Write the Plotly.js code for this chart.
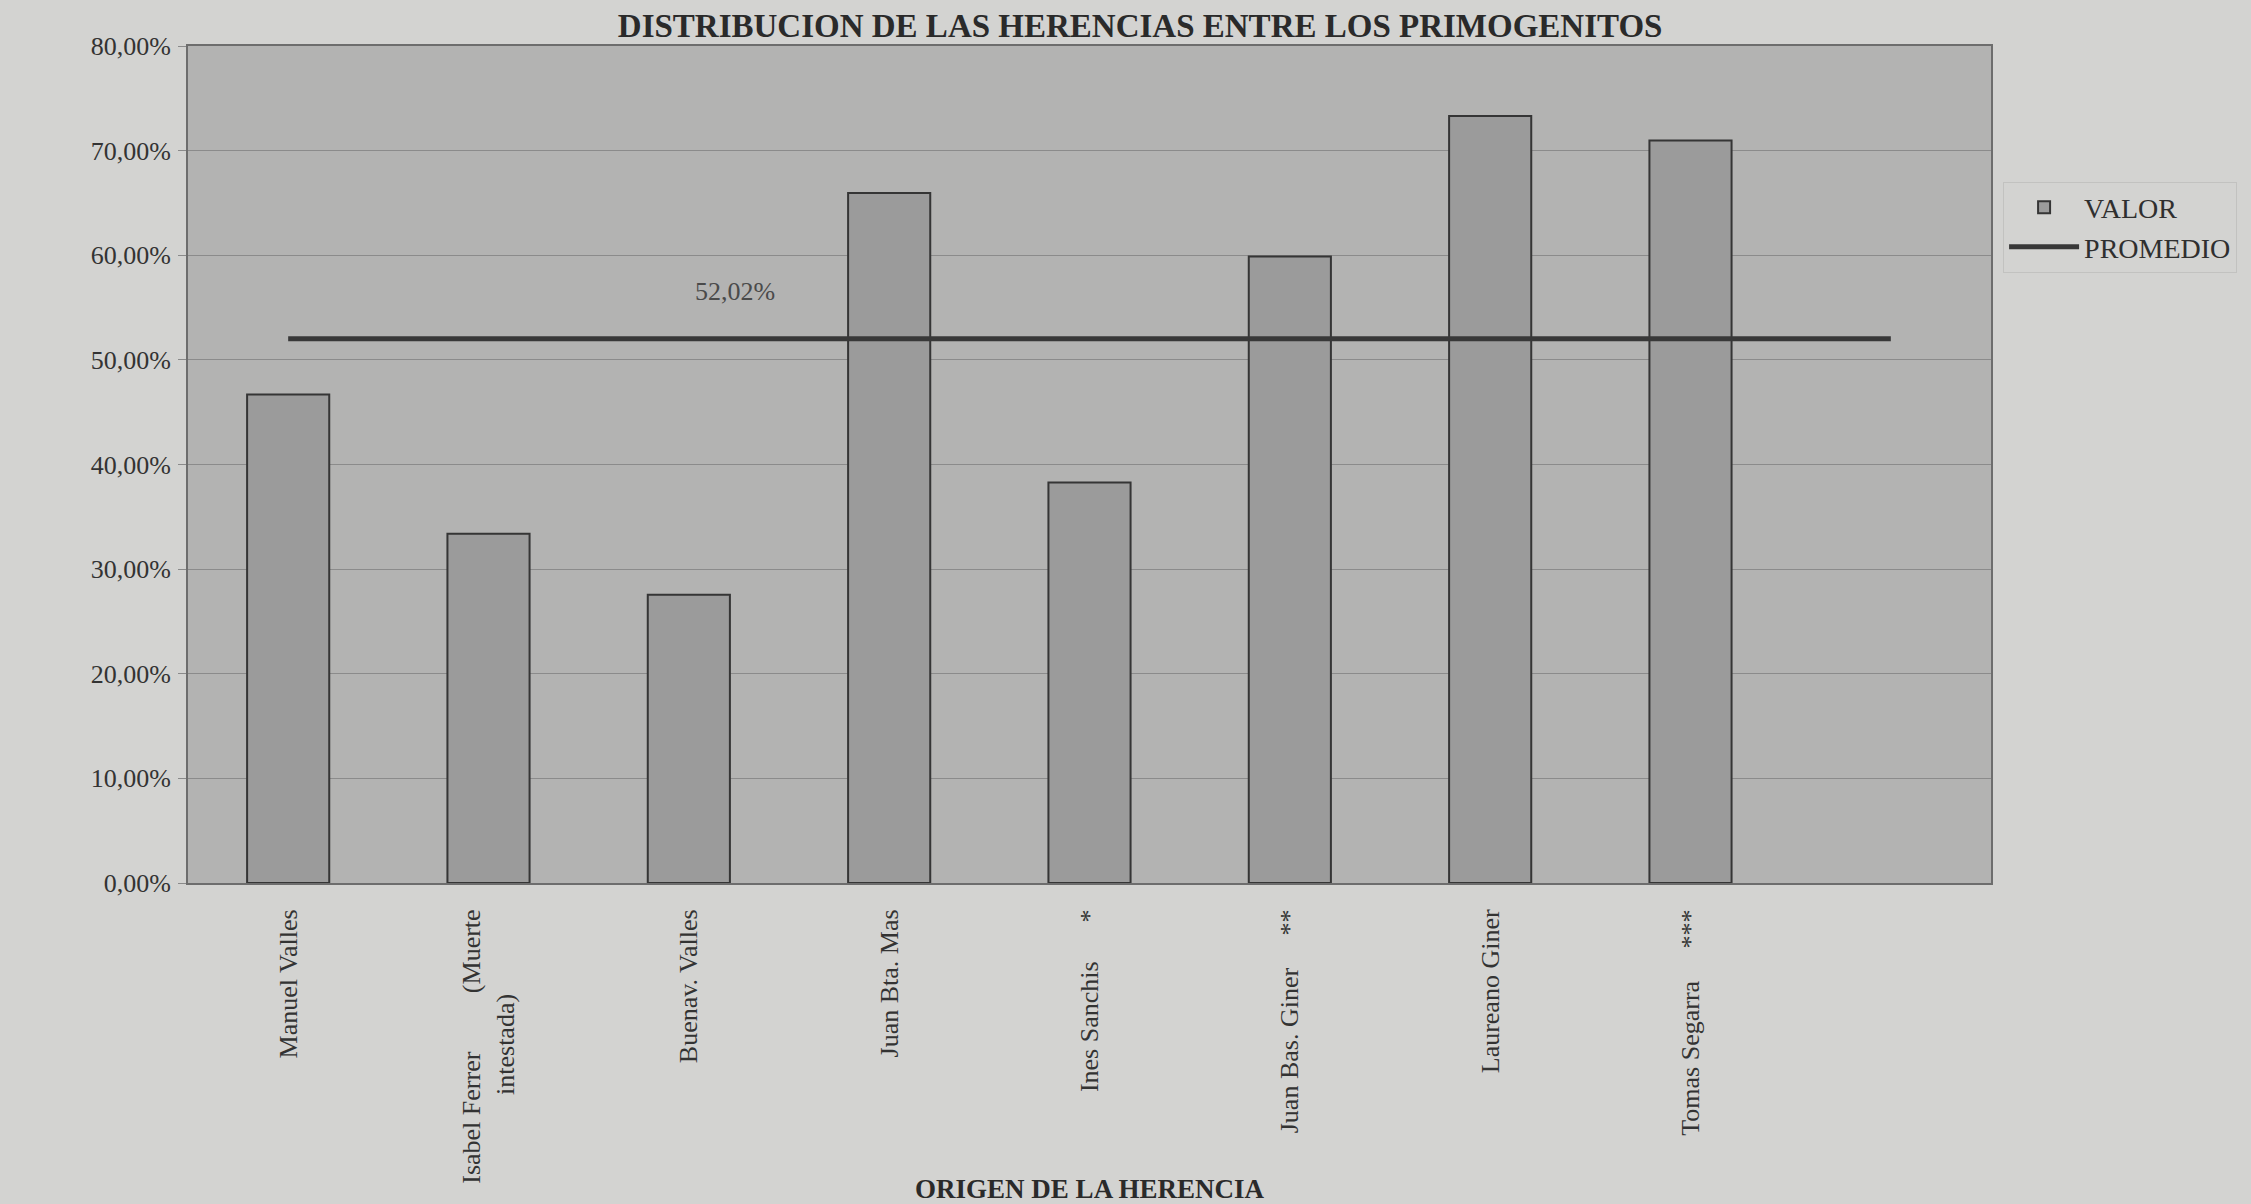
<!DOCTYPE html>
<html>
<head>
<meta charset="utf-8">
<script src="https://cdn.plot.ly/plotly-3.0.1.min.js"></script>
<style>html,body{margin:0;padding:0;background:#d3d3d1;}#chart{width:2251px;height:1204px;}</style>
</head>
<body>
<div id="chart"></div>
<script>
// ---- data ----
const NB = '\u00a0';
const categories = [
  'Manuel Valles',
  'Isabel Ferrer' + NB.repeat(9) + '(Muerte<br>intestada)' + NB.repeat(13),
  'Buenav. Valles',
  'Juan Bta. Mas',
  'Ines Sanchis' + NB.repeat(6) + '*',
  'Juan Bas. Giner' + NB.repeat(5) + '**',
  'Laureano Giner',
  'Tomas Segarra' + NB.repeat(5) + '***',
  NB
];
const valor = [0.4670, 0.3338, 0.2756, 0.6596, 0.3827, 0.5988, 0.7330, 0.7097, null];
const promedioValue = 0.5202;
const promedio = [promedioValue, promedioValue, promedioValue, promedioValue, promedioValue,
                  promedioValue, promedioValue, promedioValue, promedioValue];
const promedioLabel = '52,02%';
const yTicks = [0, 0.1, 0.2, 0.3, 0.4, 0.5, 0.6, 0.7, 0.8];

const FONT = "'Liberation Serif', 'Times New Roman', 'DejaVu Serif', serif";

const traces = [
  {
    type: 'bar', name: 'VALOR', x: categories, y: valor,
    marker: {color: '#9b9b9b', line: {color: '#353535', width: 2}},
    hoverinfo: 'x+y'
  },
  {
    type: 'scatter', mode: 'lines', name: 'PROMEDIO', x: categories, y: promedio,
    line: {color: '#383838', width: 5}
  }
];

const layout = {
  width: 2251, height: 1204,
  paper_bgcolor: '#d3d3d1', plot_bgcolor: '#b3b3b2',
  separators: ',.',
  margin: {l: 188, r: 260, t: 46, b: 321, pad: 0},
  font: {family: FONT, size: 26, color: '#2f2f2f'},
  title: {
    text: '<b>DISTRIBUCION DE LAS HERENCIAS ENTRE LOS PRIMOGENITOS</b>',
    font: {family: FONT, size: 33, color: '#2a2a2a'},
    x: 0.5065, xanchor: 'center', xref: 'container',
    y: 0.979, yanchor: 'middle', yref: 'container'
  },
  bargap: 0.59,
  showlegend: true,
  legend: {
    x: 1.0067, xanchor: 'left', y: 0.838, yanchor: 'top',
    bgcolor: 'rgba(0,0,0,0)', bordercolor: '#c2c2c0', borderwidth: 1,
    font: {family: FONT, size: 28, color: '#2f2f2f'},
    itemwidth: 70,
    traceorder: 'normal'
  },
  xaxis: {
    type: 'category',
    range: [-0.5, 8.5],
    tickangle: -90,
    ticks: '',
    ticklabelstandoff: 14,
    tickfont: {family: FONT, size: 26, color: '#333'},
    showgrid: false,
    showline: true, linecolor: '#6d6d6d', linewidth: 2, mirror: true,
    title: {text: '<b>ORIGEN DE LA HERENCIA</b>', font: {family: FONT, size: 27, color: '#2a2a2a'}, standoff: 0}
  },
  yaxis: {
    range: [0, 0.8],
    tickvals: yTicks,
    tickformat: '.2%',
    ticks: 'outside', ticklen: 8, tickcolor: '#8a8a8a', tickwidth: 1,
    ticklabelstandoff: 2,
    tickfont: {family: FONT, size: 26, color: '#333'},
    showgrid: true, gridcolor: '#8b8b8b', gridwidth: 1,
    zeroline: false,
    showline: true, linecolor: '#6d6d6d', linewidth: 2, mirror: true
  },
  annotations: [
    {
      x: 2.23, y: promedioValue, xref: 'x', yref: 'y',
      text: promedioLabel, showarrow: false,
      yanchor: 'bottom', yshift: 31,
      font: {family: FONT, size: 26, color: '#4a4a4a'}
    }
  ]
};

Plotly.newPlot('chart', traces, layout, {displayModeBar: false, responsive: false});
</script>
</body>
</html>
